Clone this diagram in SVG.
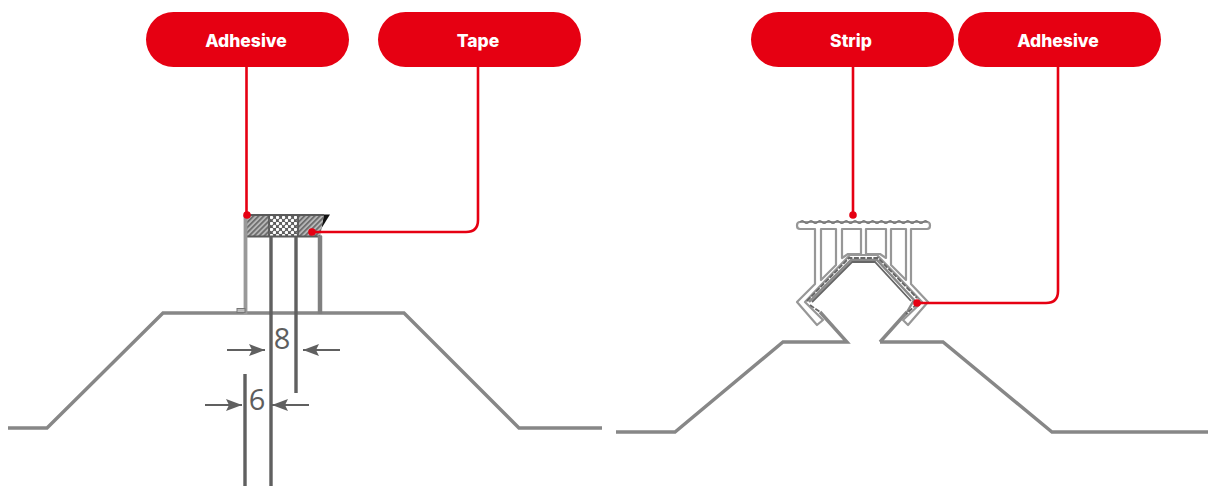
<svg xmlns="http://www.w3.org/2000/svg" width="1209" height="486" viewBox="0 0 1209 486">
<style>
.pill{fill:#e60012}
.lbl{font-family:"Inter","Liberation Sans",sans-serif;font-weight:800;font-size:17.500px;fill:#fff;text-anchor:middle}
.dim{font-family:"Open Sans","Liberation Sans",sans-serif;font-weight:400;font-size:29px;fill:#5e5e5e;text-anchor:middle}
.prof{fill:none;stroke:#878787;stroke-width:3.400;stroke-linejoin:miter}
.wall{fill:none;stroke:#999;stroke-width:3.800}
.dline{fill:none;stroke:#606060;stroke-width:3.400}
.arr{fill:none;stroke:#606060;stroke-width:2.200;marker-end:url(#ah)}
.strip{fill:#fff;stroke:#979797;stroke-width:2.200;stroke-linejoin:round}
.band{fill:none;stroke:#666;stroke-width:1.800}
.conn{fill:none;stroke:#e60012;stroke-width:2.600}
.dot{fill:#e60012}
</style>
<defs>
<marker id="ah" markerUnits="userSpaceOnUse" markerWidth="16" markerHeight="12" refX="16" refY="6" orient="auto"><path d="M0 0L16 6L0 12L3 6Z" fill="#606060"/></marker>
<pattern id="hatch" width="3.600" height="3.600" patternUnits="userSpaceOnUse" patternTransform="rotate(45)"><rect width="3.600" height="3.600" fill="#b5b5b5"/><rect width="1.700" height="3.600" fill="#6a6a6a"/></pattern>
<pattern id="cross" width="6" height="6" patternUnits="userSpaceOnUse"><rect width="6" height="6" fill="#5e5e5e"/><circle cx="1.500" cy="1.500" r="1.700" fill="#fff"/><circle cx="4.500" cy="4.500" r="1.700" fill="#fff"/></pattern>
</defs>

<g id="left-section">
<path class="prof" d="M8 428H47L163 313H404L519 428H602"/>
<path d="M321 229L324 214.500H330Z" fill="#111"/>
<path d="M245 215H269V237H245Z" fill="url(#hatch)"/>
<rect x="269" y="215" width="29" height="22" fill="url(#cross)"/>
<path d="M298 215H324L320 237H298Z" fill="url(#hatch)"/>
<path d="M245 215H324M245 236.500H322M269 215V237M298 215V237" fill="none" stroke="#5a5a5a" stroke-width="1.800"/>
<path class="wall" d="M245.500 215V314"/>
<path class="wall" d="M320 236V314" style="stroke-width:4.500;stroke:#808080"/>
<rect x="237" y="308.500" width="8" height="4" fill="#bbb" stroke="#777"/>
<path class="dline" d="M271 237V486M296 237V393M245 374V486"/>
<path class="arr" d="M227 350H265"/>
<path class="arr" d="M340 350H303"/>
<path class="arr" d="M205 405H242"/>
<path class="arr" d="M309 405H272"/>
<text class="dim" x="282" y="349">8</text>
<text class="dim" x="257" y="410">6</text>
</g>

<g id="right-section">
<path class="prof" d="M616 432H675L783 342H847L820 312M880 342L907 312M880 342H943L1052 432H1208"/>
<path class="strip" d="M800 222H927Q930 222 930 225.500Q930 229 927 229H911V284L928 302L908 325L903 320L922 302L906 285L877 255H850L821 285L805 302L823 320L817 325L797 302L815 284V229H800Q797 229 797 225.500Q797 222 800 222Z"/>
<path d="M800 222q2.200 -2.500 4.400 0t4.400 0t4.400 0t4.400 0t4.400 0t4.400 0t4.400 0t4.400 0t4.400 0t4.400 0t4.400 0t4.400 0t4.400 0t4.400 0t4.400 0t4.400 0t4.400 0t4.400 0t4.400 0t4.400 0t4.400 0t4.400 0t4.400 0t4.400 0t4.400 0t4.400 0t4.400 0t4.400 0t4.400 0" fill="none" stroke="#777" stroke-width="1.600"/>
<path class="strip" d="M821 229H836V265L821 280Z"/>
<path class="strip" d="M842 229H861V254H848L842 258Z"/>
<path class="strip" d="M866 229H886V258L880 254H866Z"/>
<path class="strip" d="M891 229H906V280L891 265Z"/>
<path d="M809 302L851 260H877L914 300L907 312" fill="none" stroke="#8a8a8a" stroke-width="2.400"/>
<path class="band" d="M807 301L849 258H878L917 298M810 305L820 312M917 304L906 314" stroke-dasharray="5 1.500"/>
<path class="band" d="M812 302L852 262H875L911 301"/>
</g>

<g id="connectors">
<path class="conn" d="M246.500 67V215"/>
<circle class="dot" cx="247" cy="215" r="3.800"/>
<path class="conn" d="M478 67V220Q478 232 466 232H312"/>
<circle class="dot" cx="312" cy="232" r="3.800"/>
<path class="conn" d="M853 67V215"/>
<circle class="dot" cx="853" cy="215" r="3.800"/>
<path class="conn" d="M1058 67V291Q1058 303 1046 303H917"/>
<circle class="dot" cx="917" cy="303" r="3.800"/>
</g>

<g id="node-adhesive-left"><rect class="pill" x="146" y="12" width="203" height="55" rx="27.500"/><text class="lbl" x="246" y="47">Adhesive</text></g>
<g id="node-tape"><rect class="pill" x="378" y="12" width="203" height="55" rx="27.500"/><text class="lbl" x="478" y="47">Tape</text></g>
<g id="node-strip"><rect class="pill" x="751" y="12" width="203" height="55" rx="27.500"/><text class="lbl" x="851" y="47">Strip</text></g>
<g id="node-adhesive-right"><rect class="pill" x="958" y="12" width="203" height="55" rx="27.500"/><text class="lbl" x="1058" y="47">Adhesive</text></g>
</svg>
